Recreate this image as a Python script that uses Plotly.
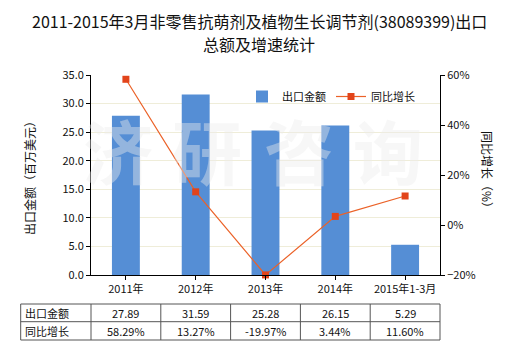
import plotly.graph_objects as go

# Export values and year-on-year growth, 2011 to Q1 2015
categories = ["2011年", "2012年", "2013年", "2014年", "2015年1-3月"]
export_value = [27.89, 31.59, 25.28, 26.15, 5.29]      # million USD
yoy_growth = [58.29, 13.27, -19.97, 3.44, 11.60]       # percent
row_names = ["出口金额", "同比增长"]
title_lines = ["2011-2015年3月非零售抗萌剂及植物生长调节剂(38089399)出口", "总额及增速统计"]
watermark = ["济", "研", "咨", "询"]

FONT = "Noto Sans CJK SC"
W, H = 520, 350
ML, MR, MT, MB = 20, 0, 75, 10
PW, PH = W - ML - MR, H - MT - MB

# plot area in pixels, converted to paper fractions
x_dom = [(91 - ML) / PW, (440 - ML) / PW]
y_dom = [(H - MB - 275) / PH, 1.0]


def px_to_px(px):
    return (px - ML) / PW


def px_to_py(py):
    return (H - MB - py) / PH


def cat_edge(i):
    # paper x of the left edge of category slot i on the x axis
    return x_dom[0] + i * (x_dom[1] - x_dom[0]) / len(categories)


fig = go.Figure()
fig.add_trace(go.Bar(
    x=categories, y=export_value, name="出口金额",
    marker=dict(color="#558ED5", line=dict(width=0)), width=0.4,
))
fig.add_trace(go.Scatter(
    x=categories, y=yoy_growth, name="同比增长", yaxis="y2",
    mode="lines+markers",
    line=dict(color="#EB6228", width=1.2),
    marker=dict(symbol="square", size=7, color="#E2441B"),
    cliponaxis=False,
))

annotations = []
shapes = []

# table below the chart
t_top, t_mid, t_bot = px_to_py(304), px_to_py(321.7), px_to_py(340)
t_left = px_to_px(20.7)
line_style = dict(color="#555555", width=1)
for yv in (t_top, t_mid, t_bot):
    shapes.append(dict(type="line", xref="paper", yref="paper",
                       x0=t_left, x1=cat_edge(len(categories)), y0=yv, y1=yv,
                       line=line_style))
for xv in [t_left] + [cat_edge(i) for i in range(len(categories) + 1)]:
    shapes.append(dict(type="line", xref="paper", yref="paper",
                       x0=xv, x1=xv, y0=t_bot, y1=t_top, line=line_style))

rows = [
    [f"{v:.2f}" for v in export_value],
    [f"{v:.2f}%" for v in yoy_growth],
]
row_centers = [(t_top + t_mid) / 2, (t_mid + t_bot) / 2]
for r, (name, vals) in enumerate(zip(row_names, rows)):
    annotations.append(dict(text=name, xref="paper", yref="paper",
                            x=t_left + 2 / PW, y=row_centers[r], xanchor="left",
                            yanchor="middle", showarrow=False,
                            font=dict(size=11, color="#111")))
    for i, s in enumerate(vals):
        annotations.append(dict(text=s, xref="paper", yref="paper",
                                x=(cat_edge(i) + cat_edge(i + 1)) / 2,
                                y=row_centers[r], xanchor="center",
                                yanchor="middle", showarrow=False,
                                font=dict(size=11, color="#111")))

# title, two centred lines
for txt, cy in zip(title_lines, (21, 44)):
    annotations.append(dict(text=txt, xref="paper", yref="paper",
                            x=px_to_px(259), y=px_to_py(cy),
                            xanchor="center", yanchor="middle", showarrow=False,
                            font=dict(size=16, color="#111", family=FONT)))

# right axis title, reading top to bottom
annotations.append(dict(text="同比增长（%）", xref="paper", yref="paper",
                        x=px_to_px(488), y=px_to_py(172), textangle=90,
                        xanchor="center", yanchor="middle",
                        showarrow=False, font=dict(size=12, color="#111")))

# watermark
for ch, cx in zip(watermark, (118, 207, 299, 388)):
    annotations.append(dict(text=ch, xref="paper", yref="paper",
                            x=px_to_px(cx), y=px_to_py(149),
                            xanchor="center", yanchor="middle", showarrow=False,
                            font=dict(size=70, color="rgba(235,235,235,0.42)",
                                      family=FONT, weight="bold")))

fig.update_layout(
    width=W, height=H,
    margin=dict(l=ML, r=MR, t=MT, b=MB),
    paper_bgcolor="white", plot_bgcolor="white",
    font=dict(family=FONT, size=11, color="#111"),
    xaxis=dict(domain=x_dom, showline=True, linecolor="black", linewidth=1,
               ticks="outside", ticklen=4, tickcolor="black",
               showgrid=False, tickfont=dict(size=11)),
    yaxis=dict(domain=y_dom, range=[0, 35], dtick=5, tickformat=".1f",
               showline=True, linecolor="black", linewidth=1,
               ticks="outside", ticklen=4, tickcolor="black",
               showgrid=True, gridcolor="#EFEDD9", gridwidth=1,
               zeroline=False, tickfont=dict(size=11),
               title=dict(text="出口金额（百万美元）", standoff=24,
                          font=dict(size=12, color="#111"))),
    yaxis2=dict(overlaying="y", side="right", anchor="x",
                range=[-20, 60], dtick=20, ticksuffix="%",
                showline=True, linecolor="black", linewidth=1,
                ticks="outside", ticklen=4, tickcolor="black",
                showgrid=False, zeroline=False, tickfont=dict(size=11)),
    legend=dict(orientation="h", x=px_to_px(242), y=px_to_py(82),
                xanchor="left", yanchor="top", bgcolor="rgba(0,0,0,0)",
                font=dict(size=11), itemwidth=30),
    bargap=0.6,
    shapes=shapes,
    annotations=annotations,
)

fig.write_html("out.html")
